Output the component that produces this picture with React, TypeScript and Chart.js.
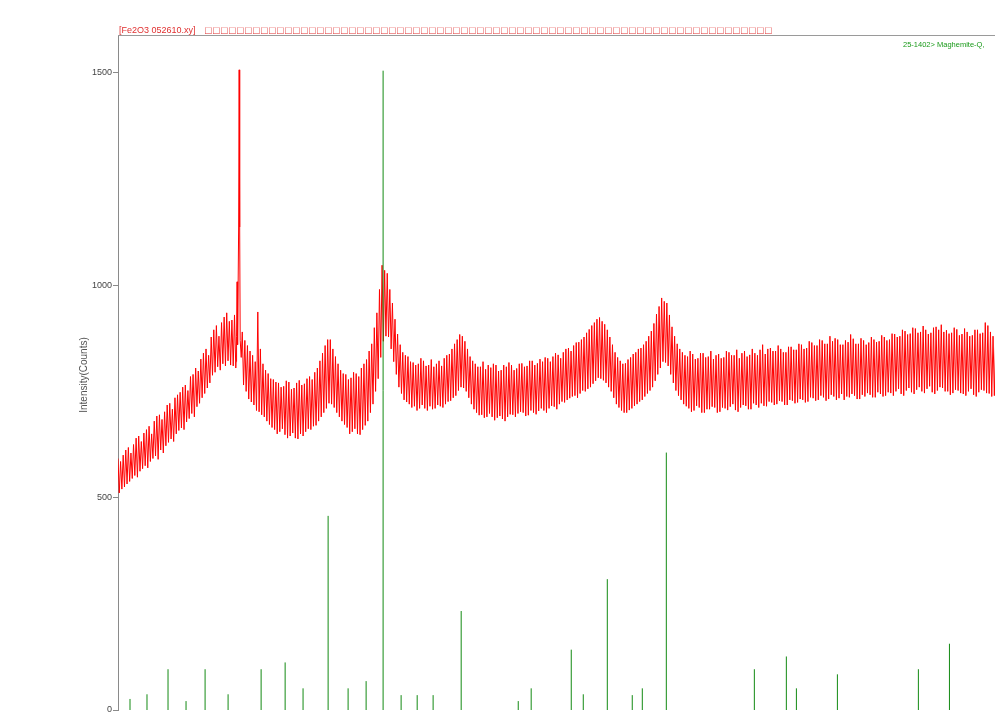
import React, { useEffect, useRef } from "react";
import { Chart, registerables } from "chart.js";

Chart.register(...registerables);

// ---- Data ----
const THETA_START = 10;
const THETA_STEP = 0.25;

// upper envelope of the measured pattern (counts), 10.0° .. 96.0° every 0.25°
const intensityHigh = [
  592, 585, 600, 612, 618, 605, 625, 640,
  645, 632, 652, 660, 668, 650, 680, 692,
  695, 684, 702, 718, 722, 708, 735, 742,
  748, 760, 765, 752, 785, 790, 805, 798,
  826, 840, 850, 835, 878, 895, 905, 880,
  912, 925, 935, 915, 918, 930, 925, 900,
  890, 870, 858, 845, 835, 820, 937, 850,
  815, 800, 792, 780, 778, 772, 770, 760,
  762, 775, 772, 755, 758, 770, 776, 765,
  768, 780, 785, 778, 795, 805, 822, 840,
  858, 872, 872, 850, 832, 815, 800, 792,
  790, 778, 782, 795, 792, 785, 805, 815,
  825, 845, 862, 900, 935, 990, 1047, 1035,
  1028, 990, 958, 920, 885, 860, 842, 835,
  832, 820, 818, 812, 815, 828, 822, 810,
  812, 825, 808, 815, 822, 810, 828, 835,
  838, 850, 862, 872, 884, 880, 868, 850,
  832, 822, 815, 808, 808, 820, 802, 812,
  806, 815, 812, 798, 800, 812, 808, 818,
  812, 800, 804, 815, 816, 808, 810, 822,
  822, 812, 816, 826, 820, 830, 828, 820,
  832, 840, 836, 828, 842, 850, 852, 845,
  858, 865, 866, 872, 878, 888, 896, 905,
  912, 920, 924, 915, 908, 895, 878, 860,
  842, 830, 822, 815, 816, 825, 830, 838,
  842, 850, 852, 860, 868, 880, 892, 910,
  932, 950, 970, 962, 958, 930, 902, 880,
  862, 850, 842, 835, 832, 845, 838, 826,
  828, 840, 840, 830, 832, 845, 826, 835,
  838, 828, 830, 845, 842, 835, 835, 848,
  828, 840, 845, 832, 836, 850, 840, 835,
  848, 860, 838, 850, 852, 845, 845, 858,
  850, 842, 842, 855, 855, 848, 848, 862,
  860, 850, 852, 868, 865, 858, 858, 872,
  870, 862, 862, 880, 868, 875, 872, 860,
  860, 870, 866, 884, 874, 862, 862, 875,
  870, 860, 865, 878, 872, 866, 868, 882,
  878, 870, 872, 886, 885, 878, 880, 895,
  892, 884, 886, 900, 898, 888, 890, 904,
  895, 885, 888, 900, 902, 895, 907, 890,
  894, 886, 888, 900, 896, 882, 885, 898,
  890, 880, 882, 895, 895, 886, 888, 912,
  905, 890, 880, 870, 872, 888, 870, 860,
  868,
];

// lower envelope of the measured pattern (counts), same grid
const intensityLow = [
  511, 520, 525, 532, 538, 545, 552, 548,
  562, 568, 575, 570, 585, 592, 598, 590,
  612, 605, 622, 630, 638, 632, 650, 658,
  664, 660, 678, 686, 698, 690, 714, 722,
  735, 745, 758, 770, 788, 795, 808, 800,
  815, 810, 822, 812, 810, 805, 815, 790,
  765, 750, 732, 725, 718, 705, 702, 695,
  690, 680, 672, 665, 660, 650, 655, 662,
  648, 640, 645, 652, 640, 638, 650, 645,
  655, 662, 660, 668, 670, 680, 690, 700,
  710, 722, 720, 712, 700, 690, 680, 672,
  665, 650, 655, 662, 650, 648, 660, 670,
  680, 700, 720, 750, 780, 830, 868, 880,
  878, 850, 820, 790, 760, 745, 730, 725,
  720, 712, 715, 705, 710, 718, 710, 705,
  715, 708, 710, 718, 715, 712, 720, 726,
  728, 735, 740, 752, 760, 758, 750, 735,
  720, 708, 700, 694, 695, 688, 690, 698,
  690, 682, 688, 692, 685, 680, 690, 696,
  695, 690, 698, 702, 700, 692, 694, 705,
  700, 696, 704, 710, 705, 700, 710, 716,
  714, 708, 720, 726, 724, 730, 734, 738,
  740, 735, 745, 752, 750, 756, 760, 768,
  775, 782, 780, 776, 770, 760, 750, 735,
  720, 712, 705, 700, 700, 706, 710, 716,
  720, 726, 730, 738, 745, 752, 760, 775,
  790, 805, 820, 818, 810, 790, 770, 752,
  740, 730, 720, 715, 710, 702, 705, 716,
  712, 700, 700, 708, 708, 714, 712, 700,
  702, 712, 710, 706, 714, 720, 706, 702,
  712, 718, 716, 708, 708, 722, 718, 712,
  722, 716, 715, 726, 724, 718, 720, 728,
  726, 718, 718, 730, 728, 722, 724, 732,
  730, 724, 726, 736, 734, 728, 730, 740,
  736, 728, 732, 742, 738, 730, 734, 744,
  730, 738, 736, 744, 740, 732, 732, 742,
  738, 746, 742, 736, 736, 748, 744, 738,
  740, 748, 746, 740, 750, 756, 744, 740,
  752, 758, 748, 744, 754, 760, 750, 746,
  756, 762, 748, 744, 752, 760, 758, 750,
  750, 742, 746, 754, 752, 746, 744, 740,
  750, 756, 742, 738, 748, 754, 752, 746,
  745, 738, 740, 746, 737, 732, 740, 744,
  736,
];

// sharp reflection near 21.7°
const sharpPeakTheta = [21.4, 21.45, 21.5, 21.55, 21.65, 21.7, 21.75, 21.8, 21.9];
const sharpPeakCounts = [820, 880, 1008, 860, 1137, 1507, 1137, 870, 830];

// reference pattern 25-1402 Maghemite-Q (stick positions and heights)
const refTheta = [
  11.16, 12.8, 14.83, 16.57, 18.41, 20.63, 23.82, 26.14, 27.87, 30.29,
  32.22, 33.96, 35.6, 37.34, 38.89, 40.43, 43.14, 48.65, 49.9, 53.77,
  54.93, 57.25, 59.66, 60.63, 62.95, 71.45, 74.54, 75.51, 79.47, 87.29,
  90.29,
];
const refCounts = [
  26, 37, 96, 21, 96, 37, 96, 112, 51, 457,
  51, 68, 1505, 35, 35, 35, 233, 21, 51, 142,
  37, 308, 35, 51, 606, 96, 126, 51, 84, 96,
  156,
];

const yTicks = [0, 500, 1000, 1500];

const TITLE_FILE = "[Fe2O3 052610.xy]";
const TITLE_BOX_COUNT = 71;
const REF_LABEL = "25-1402> Maghemite-Q,";
const Y_TITLE = "Intensity(Counts)";

const CANVAS_W = 1050;
const CANVAS_H = 760;

export default function App() {
  const ref = useRef<HTMLCanvasElement | null>(null);

  useEffect(() => {
    const canvas = ref.current;
    if (!canvas) return;

    const measured: { x: number; y: number }[] = [];
    intensityHigh.forEach((v, i) => {
      const t = THETA_START + i * THETA_STEP;
      if (t > 21.35 && t < 21.95) return;
      measured.push({ x: t, y: v });
      measured.push({ x: t + THETA_STEP / 2, y: intensityLow[i] });
    });
    sharpPeakTheta.forEach((t, i) => measured.push({ x: t, y: sharpPeakCounts[i] }));
    measured.sort((a, b) => a.x - b.x);

    const sticks: { x: number; y: number | null }[] = [];
    refTheta.forEach((t, i) => {
      sticks.push({ x: t, y: 0 });
      sticks.push({ x: t, y: refCounts[i] });
      sticks.push({ x: t, y: null });
    });

    const textPlugin = {
      id: "xrdText",
      afterDraw(chart: any) {
        const { ctx, chartArea } = chart;
        ctx.save();
        // top frame line
        ctx.strokeStyle = "#9a9a9a";
        ctx.lineWidth = 1;
        ctx.beginPath();
        ctx.moveTo(chartArea.left, Math.round(chartArea.top) + 0.5);
        ctx.lineTo(chartArea.right, Math.round(chartArea.top) + 0.5);
        ctx.stroke();

        // title
        ctx.fillStyle = "#e03030";
        ctx.font = "9px 'Liberation Sans', Arial, sans-serif";
        ctx.textBaseline = "alphabetic";
        ctx.textAlign = "left";
        ctx.fillText(TITLE_FILE, 119, 33);
        ctx.font = "11px 'Liberation Sans', Arial, sans-serif";
        const boxes = "□".repeat(TITLE_BOX_COUNT);
        Array.from(boxes).forEach((ch, i) => {
          ctx.fillText(ch, 205 + i * 8, 33.5);
        });

        // reference label
        ctx.fillStyle = "#1a9a1a";
        ctx.font = "7.5px 'Liberation Sans', Arial, sans-serif";
        ctx.fillText(REF_LABEL, 903, 47);

        // y title
        ctx.translate(84, 375);
        ctx.rotate(-Math.PI / 2);
        ctx.textAlign = "center";
        ctx.textBaseline = "middle";
        ctx.fillStyle = "#555555";
        ctx.font = "10px 'Liberation Sans', Arial, sans-serif";
        ctx.fillText(Y_TITLE, 0, 0);
        ctx.restore();
      },
    };

    const chart = new Chart(canvas, {
      type: "scatter",
      data: {
        datasets: [
          {
            label: "Maghemite-Q",
            data: sticks as any,
            showLine: true,
            spanGaps: false,
            borderColor: "#138a13",
            borderWidth: 1,
            pointRadius: 0,
          },
          {
            label: "Fe2O3 052610",
            data: measured,
            showLine: true,
            borderColor: "#ff0000",
            borderWidth: 1,
            pointRadius: 0,
          },
        ],
      },
      options: {
        animation: false,
        responsive: false,
        devicePixelRatio: 1,
        layout: { padding: { left: 0, right: 0, top: 35, bottom: CANVAS_H - 710 } },
        plugins: {
          legend: { display: false },
          tooltip: { enabled: false },
          title: { display: false },
        },
        scales: {
          x: {
            type: "linear",
            min: 10,
            max: 100,
            display: false,
          },
          y: {
            type: "linear",
            min: 0,
            max: 1589,
            afterBuildTicks: (scale: any) => {
              scale.ticks = yTicks.map((v) => ({ value: v }));
            },
            afterFit: (scale: any) => {
              scale.width = 118;
            },
            border: { display: true, color: "#8a8a8a", width: 1 },
            grid: {
              display: true,
              drawOnChartArea: false,
              drawTicks: true,
              tickLength: 5,
              color: "#8a8a8a",
            },
            ticks: {
              color: "#444444",
              padding: 1,
              font: { family: "'Liberation Sans', Arial, sans-serif", size: 9 },
              callback: (v: any) => String(v),
            },
          },
        },
      },
      plugins: [textPlugin],
    });

    return () => chart.destroy();
  }, []);

  return (
    <div
      style={{
        position: "fixed",
        left: 0,
        top: 0,
        width: 995,
        height: 712,
        overflow: "hidden",
        background: "#ffffff",
      }}
    >
      <canvas
        ref={ref}
        width={CANVAS_W}
        height={CANVAS_H}
        style={{ width: CANVAS_W, height: CANVAS_H, display: "block" }}
      />
    </div>
  );
}
